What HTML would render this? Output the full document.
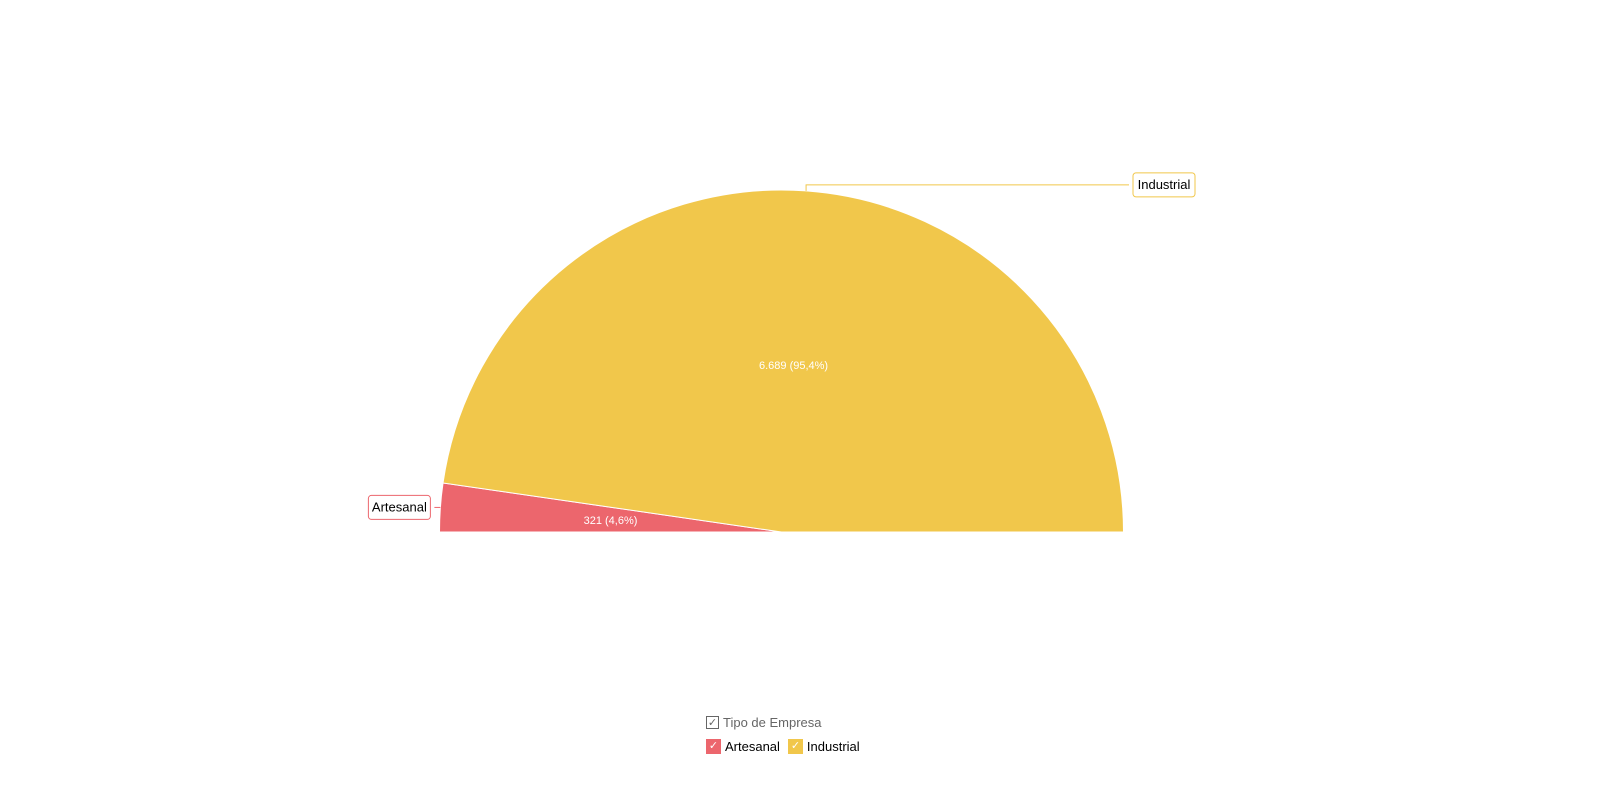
<!DOCTYPE html>
<html><head><meta charset="utf-8">
<style>
body{margin:0;background:#fff;font-family:"Liberation Sans",sans-serif;}
svg{display:block}
</style></head>
<body>
<svg id="chart" width="1600" height="785">
</svg>
<script>
const categories = ["Artesanal","Industrial"];
const values = [321, 6689];
const valueLabels = ["321 (4,6%)","6.689 (95,4%)"];
const colors = ["#ec666d","#f1c74b"];

const svg = document.getElementById('chart');
const NS = "http://www.w3.org/2000/svg";
const cx = 781.5, cy = 532, R = 342;
const total = values.reduce((a,b)=>a+b,0);
function mk(tag, attrs){const e=document.createElementNS(NS,tag);for(const k in attrs)e.setAttribute(k,attrs[k]);svg.appendChild(e);return e;}
function pt(a,r){return [cx+r*Math.cos(a), cy-r*Math.sin(a)];}
let ang = Math.PI;
values.forEach((v,i)=>{
  const sweep = v/total*Math.PI;
  const a0 = ang, a1 = ang - sweep;
  const p0 = pt(a0,R), p1 = pt(a1,R);
  const path = mk('path',{d:`M${cx},${cy} L${p0[0]},${p0[1]} A${R},${R} 0 0 1 ${p1[0]},${p1[1]} Z`,fill:colors[i],stroke:'#fff','stroke-width':1});
  
  
  const mid = (a0+a1)/2;
  let lp;
  if (sweep < 0.3) lp = [cx - R*0.5, cy - 12];
  else lp = pt(mid, R*0.49);
  const t = mk('text',{x:lp[0],y:lp[1]+4,'text-anchor':'middle','font-size':11,fill:'#fff'});
  t.textContent = valueLabels[i];
  
  
  // callout
  const g = document.createElementNS(NS,'g'); svg.appendChild(g);
  
  
  let line, bx, by;
  if (mid > Math.PI/2) {
    const e = pt(mid, R);
    bx = e[0]-72; by = e[1]-12;
    line = `M${e[0]},${e[1]} L${bx+62+4},${e[1]}`;
  } else {
    const e = pt(mid, R);
    bx = 1133; by = e[1]-18;
    line = `M${e[0]},${e[1]} L${e[0]},${e[1]-6} L${bx-4},${e[1]-6}`;
    by = e[1]-6-12;
  }
  const l = document.createElementNS(NS,'path');
  l.setAttribute('d',line);l.setAttribute('fill','none');l.setAttribute('stroke',colors[i]);l.setAttribute('stroke-width',1);
  g.appendChild(l);
  const r = document.createElementNS(NS,'rect');
  r.setAttribute('x',bx);r.setAttribute('y',by);r.setAttribute('width',62);r.setAttribute('height',24);r.setAttribute('rx',3);
  r.setAttribute('fill','#fff');r.setAttribute('stroke',colors[i]);g.appendChild(r);
  const tt = document.createElementNS(NS,'text');
  tt.setAttribute('x',bx+31);tt.setAttribute('y',by+16);tt.setAttribute('text-anchor','middle');tt.setAttribute('font-size',13);tt.setAttribute('fill','#000');
  tt.textContent = categories[i]; g.appendChild(tt);
  ang = a1;
});
</script>
<div style="position:absolute;left:706px;top:714px;font-size:13px;">
  <div style="display:flex;align-items:center;color:#666;height:17px;">
    <span style="width:13px;height:13px;border:1px solid #666;box-sizing:border-box;font-size:11px;line-height:12px;text-align:center;margin-right:4px;">✓</span>Tipo de Empresa
  </div>
  <div style="display:flex;align-items:center;margin-top:7px;height:16px;">
    <span style="display:flex;align-items:center;margin-right:8px;">
      <span style="width:15px;height:15px;background:#ec666d;color:#fff;font-size:11px;line-height:15px;text-align:center;margin-right:4px;">✓</span>Artesanal</span>
    <span style="display:flex;align-items:center;">
      <span style="width:15px;height:15px;background:#f1c74b;color:#fff;font-size:11px;line-height:15px;text-align:center;margin-right:4px;">✓</span>Industrial</span>
  </div>
</div>
</body></html>
